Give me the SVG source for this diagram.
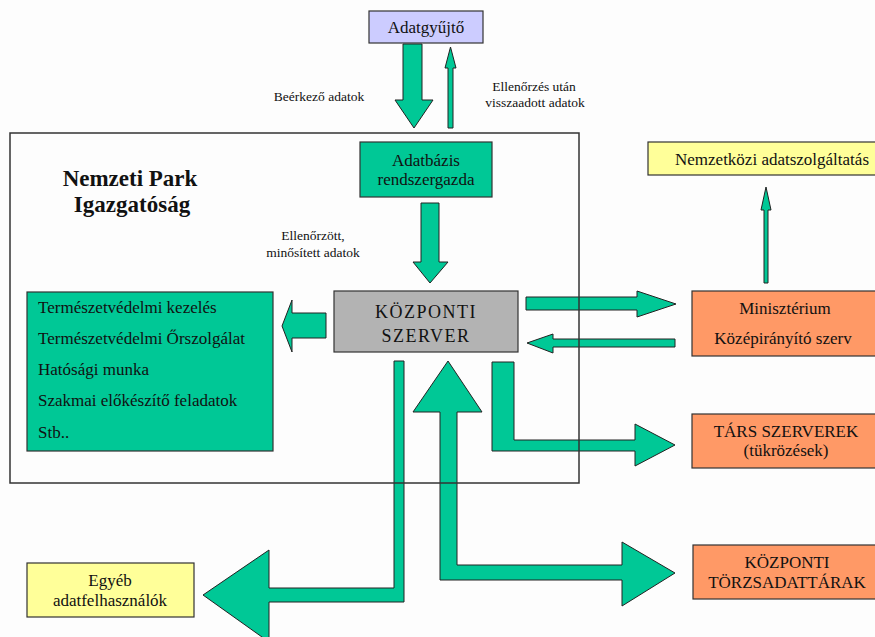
<svg xmlns="http://www.w3.org/2000/svg" width="875" height="637" viewBox="0 0 875 637" font-family="'Liberation Serif', 'DejaVu Serif', serif">
<style>
text{font-family:"Liberation Serif","DejaVu Serif","Times New Roman",serif;fill:#111}
.node{stroke:#333;stroke-width:1.2}
.green{fill:#00c896}
.gray{fill:#b3b3b3}
.yellow{fill:#ffff99}
.lav{fill:#ccccff}
.orange{fill:#ff9966}
.arrow{fill:#00c896;stroke:#222;stroke-width:1}
.lbl{font-size:13.5px}
.t14{font-size:17px}
.c{text-anchor:middle}
</style>
<rect width="875" height="637" fill="#fdfdfd"/>

<g id="connectors">
  <polygon class="arrow" points="403,44 422,44 422,100 433,100 414,128 395,100 403,100"/>
  <polygon class="arrow" points="448,128 453,128 453,68 456,68 450.5,47 445,68 448,68"/>
  <polygon class="arrow" points="421,203 439,203 439,262 448,262 430,283 413,262 421,262"/>
  <polygon class="arrow" points="326,313 326,338 292,338 292,352 282,326 292,300 292,313"/>
  <polygon class="arrow" points="526,297 637,297 637,291 676,304 637,317 637,310 526,310"/>
  <polygon class="arrow" points="675,339 675,347 553,347 553,353 527,343 553,334 553,339"/>
  <polygon class="arrow" points="764,283 768,283 768,210 771,210 766,187 761,210 764,210"/>
  <polygon class="arrow" points="492,362 514,362 514,440 635,440 635,424 675,445 635,466 635,451 492,451"/>
  <polygon class="arrow" points="448,361 482,412 457,412 457,565 622,565 622,542 675,573 622,606 622,580 440,580 440,412 413,412"/>
  <polygon class="arrow" points="394,361 404,361 404,602 269,602 269,642 203,595 269,550 269,588 394,588"/>
  <text class="lbl c" x="319" y="101">Beérkező adatok</text>
  <text class="lbl c" x="534" y="91">Ellenőrzés után</text>
  <text class="lbl c" x="535" y="107">visszaadott adatok</text>
  <text class="lbl c" x="313" y="240">Ellenőrzött,</text>
  <text class="lbl c" x="313" y="257">minősített adatok</text>
</g>

<g id="nemzeti-park">
  <rect x="10" y="133" width="569" height="350" fill="none" stroke="#333" stroke-width="1.5"/>
  <text x="130" y="186" class="c" style="font-size:23px;font-weight:bold">Nemzeti Park</text>
  <text x="132" y="212" class="c" style="font-size:23px;font-weight:bold">Igazgatóság</text>
</g>

<g id="adatgyujto">
  <rect class="node lav" x="369" y="11" width="114" height="32"/>
  <text class="t14 c" x="426" y="33">Adatgyűjtő</text>
</g>

<g id="adatbazis">
  <rect class="node green" x="360" y="142" width="132" height="55"/>
  <text class="t14 c" x="426" y="166">Adatbázis</text>
  <text class="t14 c" x="426" y="185">rendszergazda</text>
</g>

<g id="kozponti-szerver">
  <rect class="node gray" x="334" y="291" width="184" height="61"/>
  <text class="c" x="426" y="318" style="font-size:18px;letter-spacing:1.5px">KÖZPONTI</text>
  <text class="c" x="426" y="342" style="font-size:18px;letter-spacing:1.5px">SZERVER</text>
</g>

<g id="feladatok">
  <rect class="node green" x="27" y="292" width="246" height="159"/>
  <text class="t14" x="38" y="313">Természetvédelmi kezelés</text>
  <text class="t14" x="38" y="344">Természetvédelmi Őrszolgálat</text>
  <text class="t14" x="38" y="375">Hatósági munka</text>
  <text class="t14" x="38" y="406">Szakmai előkészítő feladatok</text>
  <text class="t14" x="38" y="438">Stb..</text>
</g>

<g id="nemzetkozi">
  <rect class="node yellow" x="648" y="142" width="235" height="33"/>
  <text class="t14" x="675" y="165">Nemzetközi adatszolgáltatás</text>
</g>

<g id="miniszterium">
  <rect class="node orange" x="692" y="291" width="190" height="65"/>
  <text class="t14 c" x="785" y="314">Minisztérium</text>
  <text class="t14 c" x="783" y="344">Középirányító szerv</text>
</g>

<g id="tars-szerverek">
  <rect class="node orange" x="692" y="414" width="190" height="54"/>
  <text class="t14 c" x="786" y="437">TÁRS SZERVEREK</text>
  <text class="t14 c" x="786" y="456">(tükrözések)</text>
</g>

<g id="torzsadattarak">
  <rect class="node orange" x="693" y="545" width="190" height="54"/>
  <text class="t14 c" x="787" y="568">KÖZPONTI</text>
  <text class="t14 c" x="787" y="588">TÖRZSADATTÁRAK</text>
</g>

<g id="egyeb">
  <rect class="node yellow" x="27" y="563" width="167" height="54"/>
  <text class="t14 c" x="110" y="586">Egyéb</text>
  <text class="t14 c" x="110" y="606">adatfelhasználók</text>
</g>
</svg>
